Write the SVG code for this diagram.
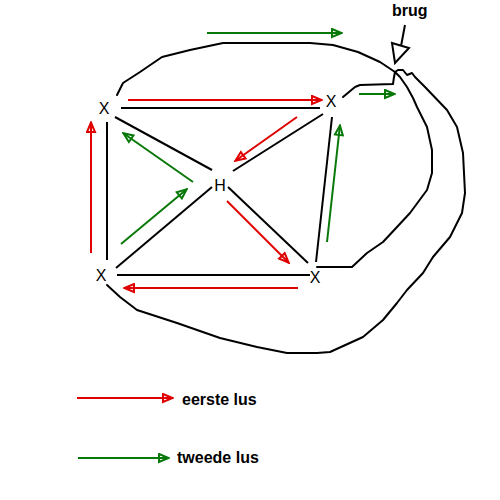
<svg xmlns="http://www.w3.org/2000/svg" width="500" height="500" viewBox="0 0 500 500">
<defs>
<style>
.edge{stroke:#000;stroke-width:2;fill:none}
.loop{stroke:#000;stroke-width:2;fill:none;stroke-linejoin:round;stroke-linecap:round}
.red{stroke:#e00000;stroke-width:2;fill:none;marker-end:url(#arR)}
.green{stroke:#087808;stroke-width:2;fill:none;marker-end:url(#arG)}
.lbl{font-family:"Liberation Sans",Arial,sans-serif;font-size:16px;fill:#000;text-anchor:middle}
.leg{font-family:"Liberation Sans",Arial,sans-serif;font-size:16px;font-weight:bold;fill:#000}
</style>
<marker id="arR" viewBox="0 0 13 11" refX="12" refY="5.5" markerWidth="13" markerHeight="11" markerUnits="userSpaceOnUse" orient="auto">
<path d="M2,1.5 L11.5,5.5 L2,9.5 Z" fill="none" stroke="#e00000" stroke-width="2"/>
</marker>
<marker id="arG" viewBox="0 0 13 11" refX="12" refY="5.5" markerWidth="13" markerHeight="11" markerUnits="userSpaceOnUse" orient="auto">
<path d="M2,1.5 L11.5,5.5 L2,9.5 Z" fill="none" stroke="#087808" stroke-width="2"/>
</marker>
</defs>
<rect width="500" height="500" fill="#fff"/>

<g id="connectors">
<line class="edge" x1="121" y1="108" x2="320" y2="108"/>
<line class="edge" x1="107" y1="122" x2="107" y2="260"/>
<line class="edge" x1="115" y1="117" x2="212" y2="170"/>
<line class="edge" x1="233" y1="171" x2="323" y2="114"/>
<line class="edge" x1="228" y1="187" x2="308" y2="263"/>
<line class="edge" x1="212" y1="187" x2="116" y2="268"/>
<line class="edge" x1="117" y1="275" x2="310" y2="275"/>
<line class="edge" x1="332" y1="117" x2="316" y2="262"/>
<path class="loop" d="M117,95 L123,83 L140,72 L162,57 L190,50 L223,43 L310,43 L333,45 L358,52 L380,62 L395,72 L398,70 L403,70 L407,75 L412,73 L415,77 L425,87 L447,110 L457,127 L463,153 L465,193 L462,213 L450,237 L433,257 L423,273 L407,290 L397,303 L383,320 L363,337 L330,352 L317,353 L287,353 L257,347 L220,338 L177,323 L137,310 L120,297 L107,285"/>
<path class="loop" d="M343,97 L355,87 L360,85 L393,84 L394,77 L395,72 L400,77 L407,87 L413,98 L417,107 L427,127 L432,150 L432,173 L427,190 L410,213 L397,227 L383,242 L367,253 L352,267 L317,267"/>
<line class="red" x1="128" y1="100" x2="322" y2="100"/>
<line class="red" x1="91" y1="253" x2="91" y2="122"/>
<line class="red" x1="297" y1="117" x2="235" y2="161"/>
<line class="red" x1="227" y1="201" x2="289" y2="263"/>
<line class="red" x1="298" y1="288" x2="124" y2="288"/>
<line class="green" x1="207" y1="33" x2="342" y2="33"/>
<line class="green" x1="359" y1="94" x2="395" y2="94"/>
<line class="green" x1="327" y1="242" x2="340" y2="125"/>
<line class="green" x1="193" y1="182" x2="123" y2="133"/>
<line class="green" x1="121" y1="244" x2="187" y2="189"/>
</g>

<g id="node-tl"><text class="lbl" x="104" y="114">X</text></g>
<g id="node-tr"><text class="lbl" x="331" y="107">X</text></g>
<g id="node-h"><text class="lbl" x="220" y="191">H</text></g>
<g id="node-bl"><text class="lbl" x="101" y="281">X</text></g>
<g id="node-br"><text class="lbl" x="315" y="283">X</text></g>

<g id="brug">
<text class="leg" x="392" y="16">brug</text>
<line x1="405" y1="25" x2="401" y2="46" stroke="#000" stroke-width="2"/>
<polygon points="392,43 409,48 395,63" fill="none" stroke="#000" stroke-width="2" stroke-linejoin="miter"/>
</g>

<g id="legend">
<line class="red" x1="77" y1="398" x2="173" y2="398"/>
<text class="leg" x="182" y="405">eerste lus</text>
<line class="green" x1="78" y1="458" x2="169" y2="458"/>
<text class="leg" x="177" y="463">tweede lus</text>
</g>
</svg>
